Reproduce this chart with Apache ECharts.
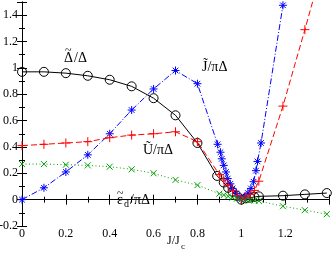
<!DOCTYPE html>
<html><head><meta charset="utf-8">
<script src="https://cdn.jsdelivr.net/npm/echarts@6/dist/echarts.min.js"></script>
<style>html,body{margin:0;padding:0;background:#fff}#c{width:332px;height:253px}</style>
</head><body><div id="c"></div>
<script>
// Delta~/Delta (black, circles)
const deltaX = [0, 0.1, 0.2, 0.3, 0.4, 0.5, 0.6, 0.7, 0.8, 0.89, 0.92, 0.94, 0.96, 0.98, 1.0, 1.02, 1.04, 1.06, 1.08, 1.19, 1.29, 1.39];
const deltaY = [0.97, 0.97, 0.96, 0.94, 0.91, 0.86, 0.77, 0.64, 0.43, 0.18, 0.13, 0.09, 0.06, 0.03, 0.0, 0.01, 0.015, 0.02, 0.025, 0.03, 0.04, 0.05];
// J~/piDelta (blue, asterisks)
const jX = [0, 0.1, 0.2, 0.3, 0.4, 0.5, 0.6, 0.7, 0.8, 0.892, 0.905, 0.911, 0.92, 0.93, 0.938, 0.95, 0.96, 0.976, 0.99, 1.0, 1.014, 1.03, 1.044, 1.056, 1.067, 1.074, 1.09, 1.19];
const jY = [0.0, 0.09, 0.21, 0.34, 0.50, 0.68, 0.84, 0.98, 0.88, 0.42, 0.36, 0.31, 0.26, 0.21, 0.16, 0.12, 0.085, 0.048, 0.02, 0.0, 0.02, 0.05, 0.085, 0.136, 0.22, 0.29, 0.43, 1.475];
// U~/piDelta (red, plus)
const uX = [0, 0.1, 0.2, 0.3, 0.4, 0.5, 0.6, 0.7, 0.8, 0.9, 0.92, 0.94, 0.96, 0.98, 1.0, 1.02, 1.04, 1.06, 1.08, 1.19, 1.29, 1.33];
const uY = [0.41, 0.42, 0.43, 0.44, 0.47, 0.49, 0.50, 0.515, 0.44, 0.19, 0.15, 0.11, 0.07, 0.03, 0.0, 0.02, 0.04, 0.07, 0.14, 0.71, 1.29, 1.53];
// eps_d~/piDelta (green, x)
const eX = [0, 0.1, 0.2, 0.3, 0.4, 0.5, 0.6, 0.7, 0.8, 0.9, 0.92, 0.94, 0.96, 0.98, 1.0, 1.02, 1.04, 1.06, 1.08, 1.19, 1.29, 1.39];
const eY = [0.27, 0.27, 0.265, 0.26, 0.25, 0.23, 0.20, 0.15, 0.11, 0.045, 0.035, 0.025, 0.015, 0.008, 0.0, -0.003, -0.005, -0.007, -0.01, -0.05, -0.08, -0.11];
const xLabels = ['0', '0.2', '0.4', '0.6', '0.8', '1', '1.2'];
const yLabels = ['-0.2', '0', '0.2', '0.4', '0.6', '0.8', '1', '1.2', '1.4'];

const SERIF = '"Liberation Serif","DejaVu Serif",serif';
const chart = echarts.init(document.getElementById('c'), null, {renderer: 'canvas'});
const pairs = (xs, ys) => xs.map((x, i) => [x, ys[i]]);
const fmt = v => String(+(+v).toFixed(1));
const axCommon = {
  type: 'value',
  axisLine: {lineStyle: {color: '#000', width: 1}},
  axisTick: {inside: true, length: 5, lineStyle: {color: '#000'}},
  minorTick: {show: true, splitNumber: 2, length: 3, lineStyle: {color: '#000'}},
  splitLine: {show: false}
};
const PLUS = 'path://M5,0L5,10M0,5L10,5';
const STAR = 'path://M5,0L5,10M0,5L10,5M1.5,1.5L8.5,8.5M8.5,1.5L1.5,8.5';
const CROSS = 'path://M0,0L10,10M10,0L0,10';
function mk(name, xs, ys, color, type, symbol, size, extra) {
  const data = pairs(xs, ys);
  if (extra) data[data.length - 1] = {value: data[data.length - 1], symbol: 'none'};
  return {
    name, type: 'line', data, symbol, symbolSize: size, showSymbol: true,
    lineStyle: {color, width: 1, type},
    itemStyle: {color: 'rgba(0,0,0,0)', borderColor: color, borderWidth: 1},
    emphasis: {disabled: true}, animation: false, z: 3
  };
}
const T = (left, top, text, size) => ({type: 'text', left, top, style: {text, font: (size || 14) + 'px ' + SERIF, fill: '#000'}});
chart.setOption({
  animation: false,
  grid: {left: 22, right: 3, top: 2, height: 224, outerBoundsMode: 'none', containLabel: false},
  xAxis: [
    Object.assign({}, axCommon, {min: 0, max: 1.4, interval: 0.2, position: 'bottom',
      axisLabel: {fontFamily: SERIF, fontSize: 12, color: '#000', margin: 2, showMaxLabel: false,
        formatter: v => { const s = fmt(v); return xLabels.includes(s) ? s : ''; }}}),
    Object.assign({}, axCommon, {min: 0, max: 1.4, interval: 0.2, position: 'top', axisLabel: {show: false}})
  ],
  yAxis: [
    Object.assign({}, axCommon, {min: -0.2, max: 1.5, interval: 0.2, position: 'left',
      axisLabel: {fontFamily: SERIF, fontSize: 12, color: '#000', margin: 4, showMaxLabel: false,
        formatter: v => { const s = fmt(v); return yLabels.includes(s) ? s : ''; }}}),
    Object.assign({}, axCommon, {min: -0.2, max: 1.5, interval: 0.2, position: 'right', axisLabel: {show: false}})
  ],
  series: [
    mk('delta', deltaX, deltaY, '#000000', 'solid', 'circle', 9),
    mk('J', jX, jY, '#0000ff', [6, 2, 1, 2], STAR, 8),
    mk('U', uX, uY, '#ff0000', [6, 3], PLUS, 9, true),
    mk('eps', eX, eY, '#00a000', [1, 2.5], CROSS, 6)
  ],
  graphic: [
    T(64, 51, 'Δ'), T(74, 51, '/Δ'), T(65, 45, '~', 12),
    T(202, 60, 'J\u0303/πΔ'),
    T(143, 143, 'Ũ/πΔ'),
    T(117, 193, 'ε'), T(117, 188, '~', 12), T(124, 199, 'd', 10), T(130, 193, '/πΔ'),
    T(167, 235, 'J/J', 12), T(181, 242, 'c', 9)
  ]
});
</script>
</body></html>
